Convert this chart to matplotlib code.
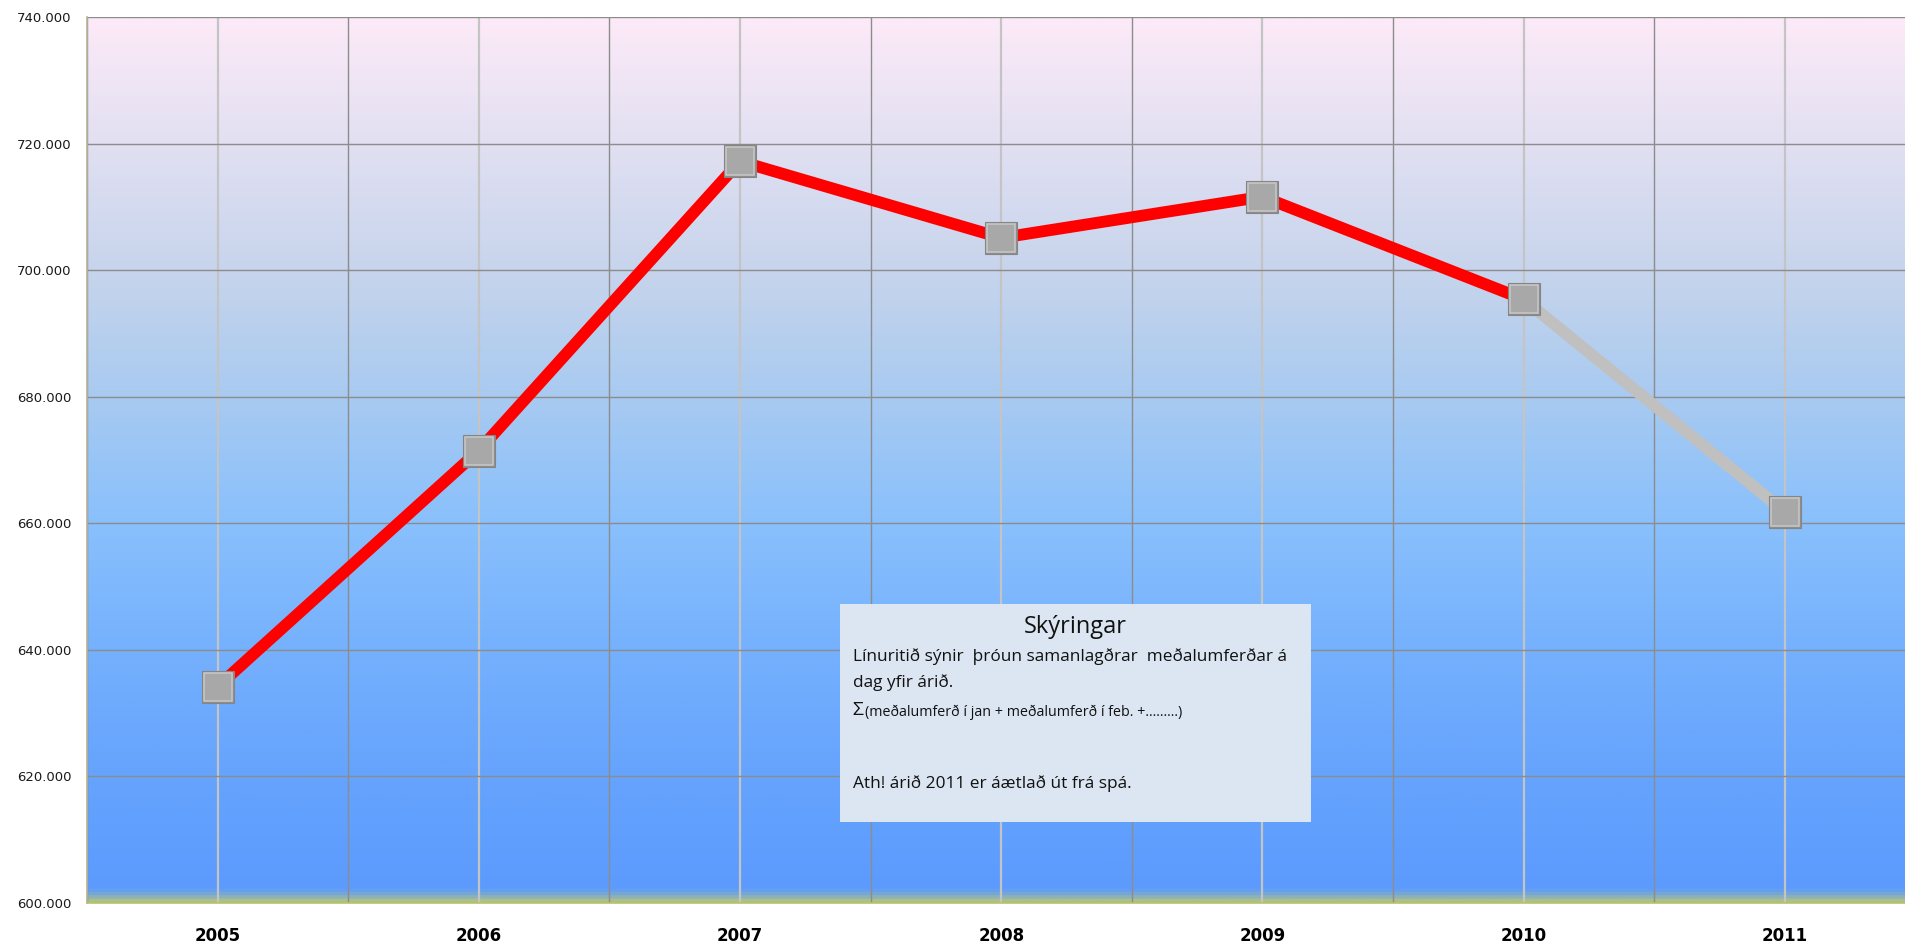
import matplotlib
matplotlib.use("Agg")
import matplotlib.pyplot as plt
import numpy as np
from matplotlib.colors import LinearSegmentedColormap
from matplotlib.patches import Rectangle

years = ['2005', '2006', '2007', '2008', '2009', '2010', '2011']
values = [634200, 671500, 717200, 705100, 711600, 695400, 661800]
n_actual = 6  # 2005-2010 measured, 2011 forecast
yticks = [600000, 620000, 640000, 660000, 680000, 700000, 720000, 740000]

box_title = "Skýringar"
box_line1 = "Línuritið sýnir  þróun samanlagðrar  meðalumferðar á"
box_line2 = "dag yfir árið."
box_sigma = "Σ"
box_sum = "(meðalumferð í jan + meðalumferð í feb. +.........)"
box_note = "Ath! árið 2011 er áætlað út frá spá."

W, H = 1905, 944
fig = plt.figure(figsize=(W / 100, H / 100), dpi=100)
left_px, right_px_full, top_px, bottom_px = 87, 87 + 7 * 261.2, 17, 903
ax = fig.add_axes([left_px / W, 1 - bottom_px / H, (right_px_full - left_px) / W, (bottom_px - top_px) / H])

x = np.arange(len(years))
ymin, ymax = 600000, 740000
ax.set_xlim(-0.5, len(years) - 0.5)
ax.set_ylim(ymin, ymax)

# gradient background
cmap = LinearSegmentedColormap.from_list("bg", [
    (0.0, "#A9C08A"),
    (0.006, "#7FAACB"),
    (0.014, "#5C9BFD"),
    (0.15, "#66A4FD"),
    (0.30, "#77B2FD"),
    (0.43, "#89C0FC"),
    (0.57, "#A8CAF1"),
    (0.71, "#C6D4EC"),
    (0.86, "#E2E0F2"),
    (1.0, "#FDEAF8"),
])
grad = np.linspace(0, 1, 800).reshape(-1, 1)
ax.imshow(grad, cmap=cmap, origin="lower", aspect="auto",
          extent=[-0.5, len(years) - 0.5, ymin, ymax], zorder=0)

# grid
for b in np.arange(-0.5, len(years), 1.0):
    ax.axvline(b, color="#8C8C8C", lw=1.0, zorder=1)
for c in x:
    ax.axvline(c, color="#C4C4C4", lw=1.6, zorder=1)
for yt in yticks:
    ax.axhline(yt, color="#8C8C8C", lw=1.0, zorder=1)

# lines
ax.plot(x[:n_actual], values[:n_actual], color="#FF0000", lw=8.5,
        solid_capstyle="butt", zorder=3)
ax.plot(x[n_actual - 1:], values[n_actual - 1:], color="#C0C0C0", lw=8.5,
        solid_capstyle="butt", zorder=2)

# bevelled square markers
ax.plot(x, values, linestyle="none", marker="s", markersize=23.5,
        markerfacecolor="#8E8E8E", markeredgecolor="#858585", markeredgewidth=0.8, zorder=4)
ax.plot(x, values, linestyle="none", marker="s", markersize=19.5,
        markerfacecolor="#A8A8A8", markeredgecolor="#C6C6C6", markeredgewidth=1.2, zorder=5)

# ticks
ax.set_xticks(x)
ax.set_xticklabels(years, fontsize=12, fontweight="bold", color="#000000")
ax.set_yticks(yticks)
ax.set_yticklabels([f"{v:,.0f}".replace(",", ".") for v in yticks], fontsize=9.5, color="#1A1A1A")
ax.tick_params(axis="x", length=0, pad=17)
ax.tick_params(axis="y", length=0, pad=11)
for s in ["top", "right"]:
    ax.spines[s].set_visible(False)
ax.spines["left"].set_color("#B5B29A")
ax.spines["left"].set_linewidth(1.2)
ax.spines["bottom"].set_color("#B8C46A")
ax.spines["bottom"].set_linewidth(1.2)

# explanation box
bx0, by0, bx1, by1 = 840, 604, 1311, 822
fig.patches.append(Rectangle((bx0 / W, 1 - by1 / H), (bx1 - bx0) / W, (by1 - by0) / H,
                             transform=fig.transFigure, facecolor="#DCE6F2",
                             edgecolor="none", zorder=10))
fam = ["Open Sans", "DejaVu Sans"]
def ft(px, py, s, size, ha="left"):
    fig.text(px / W, 1 - py / H, s, fontsize=size, ha=ha, va="center",
             family=fam, color="#111111", zorder=11)

ft((bx0 + bx1) / 2, 627, box_title, 17, ha="center")
ft(853, 657, box_line1, 12.4)
ft(853, 683, box_line2, 12.4)
ft(852, 710, box_sigma, 14)
ft(865, 712, box_sum, 10.3)
ft(853, 784, box_note, 12.4)

fig.savefig("out.png", dpi=100)
